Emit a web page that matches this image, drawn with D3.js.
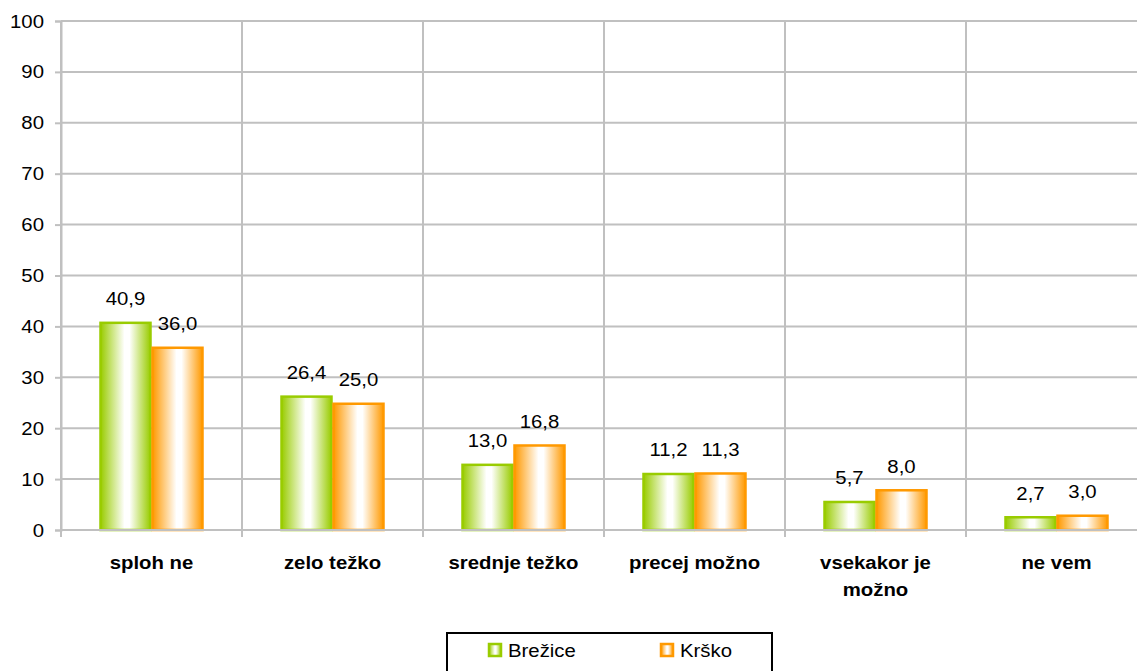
<!DOCTYPE html>
<html><head><meta charset="utf-8">
<script src="https://cdn.jsdelivr.net/npm/d3@7"></script>
<style>body{margin:0;background:#fff;} svg{display:block;font-family:Arial,"Liberation Sans",sans-serif;}</style>
</head><body>
<svg id="c" width="1137" height="671"></svg>
<script>
const categories = [["sploh ne"],["zelo težko"],["srednje težko"],["precej možno"],["vsekakor je","možno"],["ne vem"]];
const seriesNames = ["Brežice","Krško"];
const brezice = [40.9,26.4,13.0,11.2,5.7,2.7];
const krsko = [36.0,25.0,16.8,11.3,8.0,3.0];
const yTicks = [0,10,20,30,40,50,60,70,80,90,100];

(function(){
const svg = d3.select("#c");
const pL=61, pR=1147, pT=21, pB=530;
const FS=18.5, SX=1.1;
const x = d3.scaleBand().domain(d3.range(categories.length)).range([pL,pR]);
const y = d3.scaleLinear().domain([0,100]).range([pB,pT]);
const grid="#c0c0c0";
const defs = svg.append("defs");
const colors=[{edge:"#99cc00"},{edge:"#ff9900"}];
colors.forEach((c,i)=>{
  const g=defs.append("linearGradient").attr("id","g"+i).attr("x1","0").attr("x2","1").attr("y1","0").attr("y2","0");
  g.append("stop").attr("offset","0").attr("stop-color",c.edge);
  g.append("stop").attr("offset","0.48").attr("stop-color","#ffffff");
  g.append("stop").attr("offset","0.58").attr("stop-color","#ffffff");
  g.append("stop").attr("offset","1").attr("stop-color",c.edge);
});
function txt(parent,tx,ty,s,anchor,bold){
  return parent.append("text").attr("transform",`translate(${tx},${ty}) scale(${SX},1)`)
    .attr("text-anchor",anchor||"start").attr("font-size",FS).attr("font-weight",bold?"bold":"normal")
    .attr("fill","#000").text(s);
}
svg.append("g").selectAll("line").data(yTicks).join("line")
 .attr("x1",pL).attr("x2",pR).attr("y1",d=>y(d)).attr("y2",d=>y(d))
 .attr("stroke",grid).attr("stroke-width",2);
svg.append("g").selectAll("line").data(d3.range(categories.length+1)).join("line")
 .attr("x1",d=>pL+d*x.bandwidth()).attr("x2",d=>pL+d*x.bandwidth())
 .attr("y1",pT).attr("y2",pB+7).attr("stroke",grid).attr("stroke-width",2);
const ya = svg.append("g").attr("transform",`translate(${pL},0)`).call(d3.axisLeft(y).tickValues(yTicks).tickSize(6).tickFormat(""));
ya.select(".domain").attr("stroke",grid).attr("stroke-width",2);
ya.selectAll(".tick line").attr("stroke",grid).attr("stroke-width",2);
const yl=svg.append("g");
yTicks.forEach(t=>txt(yl,44,y(t)+6.5,String(t),"end"));

const bw=52;
const sub = d3.scaleBand().domain([0,1]).range([0,2*bw]);
const series=[brezice,krsko];
series.forEach((vals,si)=>{
  const g=svg.append("g");
  g.selectAll("rect").data(vals).join("rect")
   .attr("x",(d,i)=>x(i)+x.bandwidth()/2-bw+sub(si)+1)
   .attr("width",bw-2)
   .attr("y",d=>y(d)+1).attr("height",d=>Math.max(0,pB-y(d)-1))
   .attr("fill",`url(#g${si})`).attr("stroke",colors[si].edge).attr("stroke-width",2.5);
  vals.forEach((d,i)=>txt(g,x(i)+x.bandwidth()/2-bw+sub(si)+bw/2,y(d)-16.5,d.toFixed(1).replace(".",","),"middle"));
});
svg.append("line").attr("x1",pL).attr("x2",pR).attr("y1",pB).attr("y2",pB).attr("stroke",grid).attr("stroke-width",2);
const cg=svg.append("g");
categories.forEach((lines,i)=>lines.forEach((s,j)=>txt(cg,x(i)+x.bandwidth()/2,569+j*27,s,"middle",true)));
const lg=svg.append("g");
lg.append("rect").attr("x",447).attr("y",633).attr("width",325).attr("height",50).attr("fill","#fff").attr("stroke","#000").attr("stroke-width",2);
const lx=[489,661];
seriesNames.forEach((n,i)=>{
  lg.append("rect").attr("x",lx[i]).attr("y",644).attr("width",12).attr("height",12)
    .attr("fill",`url(#g${i})`).attr("stroke",colors[i].edge).attr("stroke-width",2.5);
  txt(lg,lx[i]+19,657,n,"start");
});
})();
</script>
</body></html>
